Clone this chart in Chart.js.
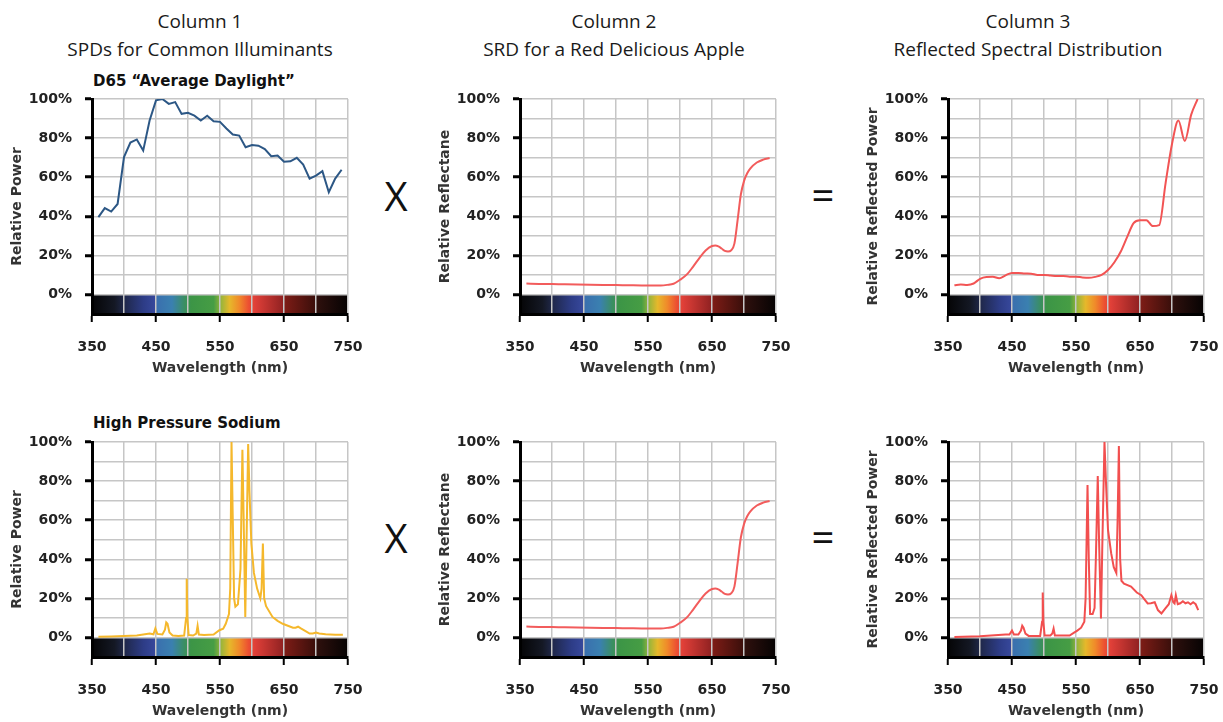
<!DOCTYPE html>
<html>
<head>
<meta charset="utf-8">
<script src="https://cdn.jsdelivr.net/npm/chart.js"></script>
<style>
body { margin: 0; width: 1223px; height: 722px; background: #fff; position: relative; overflow: hidden; font-family: "Open Sans", sans-serif; color: #222; }
.head { position: absolute; top: 7px; width: 360px; margin-left: -180px; text-align: center; font-size: 19px; line-height: 28px; color: #1a1a1a; }
.sub { position: absolute; left: 93px; font: bold 15px "DejaVu Sans"; color: #111; white-space: nowrap; }
.op { position: absolute; font-size: 40px; line-height: 40px; width: 50px; margin-left: -25px; text-align: center; color: #111; }
canvas { position: absolute; }
</style>
</head>
<body>
<div class="head" style="left:200px">Column 1<br>SPDs for Common Illuminants</div>
<div class="head" style="left:614px">Column 2<br>SRD for a Red Delicious Apple</div>
<div class="head" style="left:1028px">Column 3<br>Reflected Spectral Distribution</div>
<div class="sub" style="top:72px">D65 “Average Daylight”</div>
<div class="sub" style="top:414px">High Pressure Sodium</div>
<div class="op" style="left:396px;top:176px">X</div>
<div class="op" style="left:823px;top:175px">=</div>
<div class="op" style="left:396px;top:518px">X</div>
<div class="op" style="left:823px;top:517px">=</div>

<canvas id="c11" width="362" height="295" style="left:0px;top:84px"></canvas>
<canvas id="c12" width="362" height="295" style="left:428px;top:84px"></canvas>
<canvas id="c13" width="362" height="295" style="left:856px;top:84px"></canvas>
<canvas id="c21" width="362" height="295" style="left:0px;top:427px"></canvas>
<canvas id="c22" width="362" height="295" style="left:428px;top:427px"></canvas>
<canvas id="c23" width="362" height="295" style="left:856px;top:427px"></canvas>

<script>
// D65 daylight, relative power (%) every 10 nm
const d65Wl = [360, 370, 380, 390, 400, 410, 420, 430, 440, 450, 460, 470, 480, 490, 500, 510, 520, 530, 540, 550,
  560, 570, 580, 590, 600, 610, 620, 630, 640, 650, 660, 670, 680, 690, 700, 710, 720, 730, 740];
const d65Power = [39.6, 44.2, 42.4, 46.3, 70.3, 77.7, 79.3, 73.6, 89.0, 99.3, 100, 97.5, 98.4, 92.4, 92.9, 91.5, 89.0, 91.4, 88.6, 88.3,
  84.9, 81.8, 81.3, 75.3, 76.4, 76.1, 74.4, 70.7, 71.1, 67.9, 68.1, 69.9, 66.5, 59.2, 60.8, 63.1, 52.3, 59.3, 63.8];

// red delicious apple reflectance (%)
const appleWl = [360, 380, 400, 420, 440, 460, 480, 500, 520, 540, 560, 570, 580, 590, 600, 610, 620, 630, 640, 650,
  655, 660, 665, 670, 675, 680, 685, 690, 695, 700, 705, 710, 720, 730, 740];
const appleRefl = [5.6, 5.4, 5.3, 5.2, 5.1, 5.0, 4.9, 4.8, 4.7, 4.6, 4.6, 4.6, 4.9, 5.5, 7.5, 10, 14, 18.5, 22.5, 24.8,
  25.0, 24.6, 23.5, 22.3, 22.0, 22.6, 26, 38, 51, 58, 62, 64.5, 67.5, 69.0, 69.8];

// D65 reflected by the apple (%)
const reflD65Wl = d65Wl;
const reflD65Power = [4.7, 5.1, 4.9, 5.6, 8.0, 8.9, 9.0, 8.3, 9.8, 11.0, 11.0, 10.7, 10.6, 10.0, 10.0, 9.7, 9.4, 9.5, 9.1, 9.1,
  8.7, 8.5, 9.0, 10.0, 12.5, 16.5, 22, 29.5, 36.5, 38, 38, 35, 35.5, 57, 77, 89, 78.5, 92, 100];

// high pressure sodium lamp (%)
const hpsWl = [360, 380, 400, 420, 440, 446, 449, 452, 460, 464, 466, 468, 471, 476, 485, 494, 497, 498, 499, 501,
  508, 513, 515, 517, 525, 540, 549, 555, 559, 564, 566, 568, 570, 572, 574, 578, 582, 585, 587, 589.5,
  591, 594, 596, 599, 603, 608, 613, 615, 617, 619, 622, 632, 640, 648, 656, 664, 668, 672, 677, 685,
  690, 695, 700, 705, 715, 730, 742];
const hpsPower = [0.3, 0.5, 0.8, 1.0, 2.0, 1.6, 4.6, 1.8, 1.5, 4, 7.7, 7, 2.5, 1.0, 0.8, 1.0, 10, 30, 10, 1.2,
  1.0, 2, 6, 1.5, 1.2, 1.5, 3.7, 4.5, 7, 12, 25, 100, 60, 20, 15.7, 17, 35, 96, 60, 10.5,
  40, 99, 75, 48, 33, 25, 20, 25, 48, 20, 16, 10.5, 8.5, 7, 6, 5, 5, 5.5, 4.5, 3,
  2, 2, 2.5, 2, 1.6, 1.4, 1.4];

// sodium light reflected by the apple (%)
const reflHpsWl = [360, 400, 440, 446, 450, 453, 460, 464, 466, 468, 471, 476, 494, 497, 498, 499, 501, 510, 513, 515,
  517, 540, 547, 552, 558, 563, 565, 568, 570, 572, 576, 579, 581, 584, 586, 589, 591, 594.5, 597, 600,
  605, 609, 613, 615, 617, 619, 621, 625, 636, 645, 652, 657, 662, 667, 673, 678, 683.5, 690, 695, 699,
  702, 704, 706, 709, 713, 717, 721, 725, 729, 733, 737, 741];
const reflHpsPower = [0.2, 0.6, 1.5, 1.5, 3.5, 1.5, 1.5, 3.5, 6, 5, 2, 0.8, 0.8, 8, 23, 8, 1, 1, 2, 4.5,
  1, 1, 2.5, 3.5, 5, 8, 20, 78, 40, 12, 12, 15, 40, 82.6, 50, 9.7, 45, 100, 78, 55,
  43, 36, 33, 60, 98, 40, 29, 27.5, 26, 23, 21.6, 19.5, 17.4, 17.5, 18, 14, 12.3, 15, 17, 21.6,
  18, 17.4, 21.6, 17, 17.5, 18.5, 17.5, 18, 17, 18, 17, 14];

// visible spectrum strip under each plot
const bandStops = [
  [350, '#050506'], [385, '#141824'], [400, '#1f2748'], [430, '#2d3c86'], [449, '#37489c'],
  [451, '#3a6fae'], [475, '#3a80b0'], [495, '#3a8f60'], [505, '#3c9546'], [540, '#469d44'],
  [552, '#9bb53a'], [565, '#e6b82b'], [580, '#f08a2a'], [595, '#ec4e32'], [605, '#df3f38'],
  [648, '#922222'], [652, '#7c1c16'], [698, '#3c0f0b'], [702, '#2e100d'], [750, '#060303']
];

const bandPlugin = {
  id: 'band',
  beforeDraw(chart) {
    const { ctx, chartArea, scales: { x, y } } = chart;
    const top = y.getPixelForValue(0);
    const g = ctx.createLinearGradient(x.getPixelForValue(350), 0, x.getPixelForValue(750), 0);
    bandStops.forEach(([wl, c]) => g.addColorStop((wl - 350) / 400, c));
    ctx.save();
    ctx.fillStyle = g;
    ctx.fillRect(chartArea.left, top, chartArea.right - chartArea.left, chartArea.bottom - top);
    ctx.restore();
  }
};

const tickFont = { family: 'DejaVu Sans', weight: 'bold', size: 14 };

function makeChart(id, wl, values, color, yTitle, tension) {
  new Chart(document.getElementById(id), {
    type: 'line',
    data: {
      datasets: [{
        data: wl.map((w, i) => ({ x: w, y: values[i] })),
        borderColor: color,
        borderWidth: 2,
        pointRadius: 0,
        tension: tension,
        cubicInterpolationMode: tension ? 'monotone' : 'default'
      }]
    },
    options: {
      responsive: false,
      animation: false,
      layout: { padding: { top: 15, right: 14, left: 0, bottom: 0 } },
      plugins: { legend: { display: false }, tooltip: { enabled: false } },
      scales: {
        x: {
          type: 'linear', min: 350, max: 750,
          // fixed box so every panel lines up
          afterFit: s => { s.height = 65; s.paddingLeft = 0; s.paddingRight = 0; },
          border: { color: '#000', width: 3 },
          grid: {
            color: '#c6c6c6', lineWidth: 1.5,
            tickColor: c => (c.tick && (c.tick.value - 350) % 100 === 0) ? '#000' : 'rgba(0,0,0,0)',
            tickLength: 8, tickWidth: 2
          },
          ticks: {
            stepSize: 50, autoSkip: false, maxRotation: 0, padding: 17,
            color: '#222', font: tickFont,
            callback: v => (v - 350) % 100 === 0 ? v : ''
          },
          title: { display: true, text: 'Wavelength (nm)', color: '#333', font: tickFont, padding: { top: 0, bottom: 2 } }
        },
        y: {
          min: -10, max: 100,
          afterFit: s => { s.width = 92; s.paddingTop = 0; s.paddingBottom = 0; },
          border: { color: '#000', width: 3 },
          grid: {
            color: c => (c.tick && c.tick.value < 0) ? 'rgba(0,0,0,0)' : '#c6c6c6', lineWidth: 1.5,
            tickColor: c => (c.tick && c.tick.value >= 0 && c.tick.value % 20 === 0) ? '#000' : 'rgba(0,0,0,0)',
            tickLength: 7, tickWidth: 3
          },
          ticks: {
            stepSize: 10, autoSkip: false, padding: 13,
            color: '#222', font: tickFont,
            callback: v => (v >= 0 && v % 20 === 0) ? v + '%' : ''
          },
          title: { display: true, text: yTitle, color: '#333', font: tickFont, padding: { top: 9, bottom: 4 } }
        }
      }
    },
    plugins: [bandPlugin]
  });
}

makeChart('c11', d65Wl, d65Power, '#2c5785', 'Relative Power', 0);
makeChart('c12', appleWl, appleRefl, '#f25c5c', 'Relative Reflectane', 0.4);
makeChart('c13', reflD65Wl, reflD65Power, '#f25454', 'Relative Reflected Power', 0.3);
makeChart('c21', hpsWl, hpsPower, '#f5b82c', 'Relative Power', 0);
makeChart('c22', appleWl, appleRefl, '#f25c5c', 'Relative Reflectane', 0.4);
makeChart('c23', reflHpsWl, reflHpsPower, '#f24f4f', 'Relative Reflected Power', 0);
</script>
</body>
</html>
